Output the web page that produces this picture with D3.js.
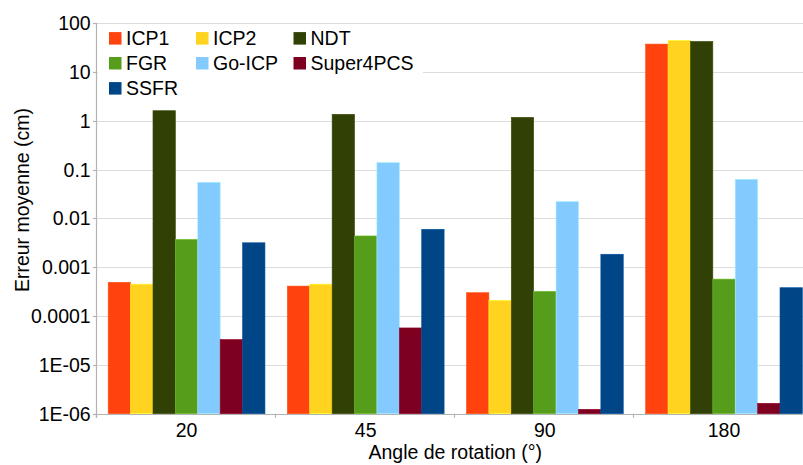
<!DOCTYPE html>
<html>
<head>
<meta charset="utf-8">
<script src="https://cdn.jsdelivr.net/npm/d3@7"></script>
<style>
  html, body { margin: 0; padding: 0; background: #fff; }
  svg { display: block; font-family: "Liberation Sans", Arial, sans-serif; }
</style>
</head>
<body>
<svg id="chart" width="803" height="465"></svg>
<script>
// ---- data ----
const categories = ["20", "45", "90", "180"];
const seriesNames = ["ICP1", "ICP2", "NDT", "FGR", "Go-ICP", "Super4PCS", "SSFR"];
const seriesColors = ["#ff420e", "#ffd320", "#314004", "#579d1c", "#83caff", "#7e0021", "#004586"];
const ICP1 = [4.9e-4, 4.1e-4, 3.0e-4, 37];
const ICP2 = [4.5e-4, 4.5e-4, 2.1e-4, 44];
const NDT = [1.6, 1.35, 1.17, 42];
const FGR = [3.7e-3, 4.36e-3, 3.2e-4, 5.7e-4];
const GoICP = [0.0547, 0.138, 0.022, 0.063];
const Super4PCS = [3.3e-5, 5.7e-5, 1.23e-6, 1.63e-6];
const SSFR = [3.16e-3, 5.97e-3, 1.84e-3, 3.8e-4];
const seriesValues = [ICP1, ICP2, NDT, FGR, GoICP, Super4PCS, SSFR];
const yTickValues = [100, 10, 1, 0.1, 0.01, 0.001, 0.0001, 1e-5, 1e-6];
const yTickLabels = ["100", "10", "1", "0.1", "0.01", "0.001", "0.0001", "1E-05", "1E-06"];
const xTitle = "Angle de rotation (°)";
const yTitle = "Erreur moyenne (cm)";

(function () {
// ---- layout ----
const svg = d3.select("#chart");
const pLeft = 97, pRight = 813.6, pTop = 23, pBottom = 413.7;
const fontSize = "19.5px";

const x0 = d3.scaleBand().domain(categories).range([pLeft, pRight]).paddingInner(0).paddingOuter(0);
const x1 = d3.scaleBand().domain(seriesNames).range([0, x0.bandwidth()]).paddingInner(0).paddingOuter(0.5);
const y = d3.scaleLog().domain([1e-6, 100]).range([pBottom, pTop]);
const color = d3.scaleOrdinal().domain(seriesNames).range(seriesColors);

// gridlines
svg.append("g").selectAll("line").data(yTickValues).join("line")
  .attr("x1", pLeft).attr("x2", 803)
  .attr("y1", d => Math.round(y(d)) + 0.5).attr("y2", d => Math.round(y(d)) + 0.5)
  .attr("stroke", "#dcdcdc").attr("stroke-width", 1.2);

// bars
const rows = [];
seriesNames.forEach((s, si) => {
  categories.forEach((c, ci) => rows.push({ s, c, v: seriesValues[si][ci] }));
});
svg.append("g").selectAll("rect").data(rows).join("rect")
  .attr("x", d => x0(d.c) + x1(d.s))
  .attr("width", x1.bandwidth())
  .attr("y", d => y(d.v))
  .attr("height", d => y(1e-6) - y(d.v))
  .attr("fill", d => color(d.s))
  .attr("stroke", d => d3.color(color(d.s)).brighter(0.5))
  .attr("stroke-width", 0.6);

// legend
const legend = svg.append("g");
legend.append("rect").attr("x", pLeft + 1).attr("y", pTop + 1).attr("width", 325).attr("height", 77).attr("fill", "#fff");
const colX = [109, 196, 293.5];
const rowY = [38.3, 63.2, 88.3];
seriesNames.forEach((s, i) => {
  const cx = colX[i % 3], cy = rowY[Math.floor(i / 3)];
  legend.append("rect").attr("x", cx).attr("y", cy - 6.2).attr("width", 12.5).attr("height", 12.5).attr("fill", color(s));
  legend.append("text").attr("x", cx + 17).attr("y", cy).attr("dy", "0.36em")
    .attr("font-size", fontSize).attr("fill", "#000").text(s);
});

// axes lines
svg.append("line").attr("x1", pLeft - 0.5).attr("x2", pLeft - 0.5).attr("y1", pTop).attr("y2", pBottom + 4)
  .attr("stroke", "#b3b3b3").attr("stroke-width", 1.2);
svg.append("line").attr("x1", pLeft - 4).attr("x2", 803).attr("y1", Math.round(pBottom) + 0.5).attr("y2", Math.round(pBottom) + 0.5)
  .attr("stroke", "#b3b3b3").attr("stroke-width", 1.2);

// y ticks
svg.append("g").selectAll("line").data(yTickValues).join("line")
  .attr("x1", pLeft - 4).attr("x2", pLeft)
  .attr("y1", d => Math.round(y(d)) + 0.5).attr("y2", d => Math.round(y(d)) + 0.5)
  .attr("stroke", "#b3b3b3").attr("stroke-width", 1.2);
svg.append("g").selectAll("text").data(yTickValues).join("text")
  .attr("x", 90.7).attr("y", d => y(d)).attr("dy", "0.36em")
  .attr("text-anchor", "end").attr("font-size", fontSize).attr("fill", "#000")
  .text((d, i) => yTickLabels[i]);

// x ticks at band boundaries
const boundaries = categories.map(c => x0(c)).concat([x0(categories[categories.length - 1]) + x0.bandwidth()]);
svg.append("g").selectAll("line").data(boundaries).join("line")
  .attr("x1", d => Math.round(d) - 0.5).attr("x2", d => Math.round(d) - 0.5)
  .attr("y1", pBottom).attr("y2", pBottom + 4)
  .attr("stroke", "#b3b3b3").attr("stroke-width", 1.2);
svg.append("g").selectAll("text").data(categories).join("text")
  .attr("x", d => x0(d) + x0.bandwidth() / 2).attr("y", 437.3)
  .attr("text-anchor", "middle").attr("font-size", fontSize).attr("fill", "#000")
  .text(d => d);

// titles
svg.append("text").attr("x", (pLeft + pRight) / 2).attr("y", 459)
  .attr("text-anchor", "middle").attr("font-size", fontSize).attr("fill", "#000").text(xTitle);
svg.append("text").attr("transform", "translate(28.5,200) rotate(-90)")
  .attr("text-anchor", "middle").attr("font-size", fontSize).attr("fill", "#000").text(yTitle);
})();
</script>
</body>
</html>
